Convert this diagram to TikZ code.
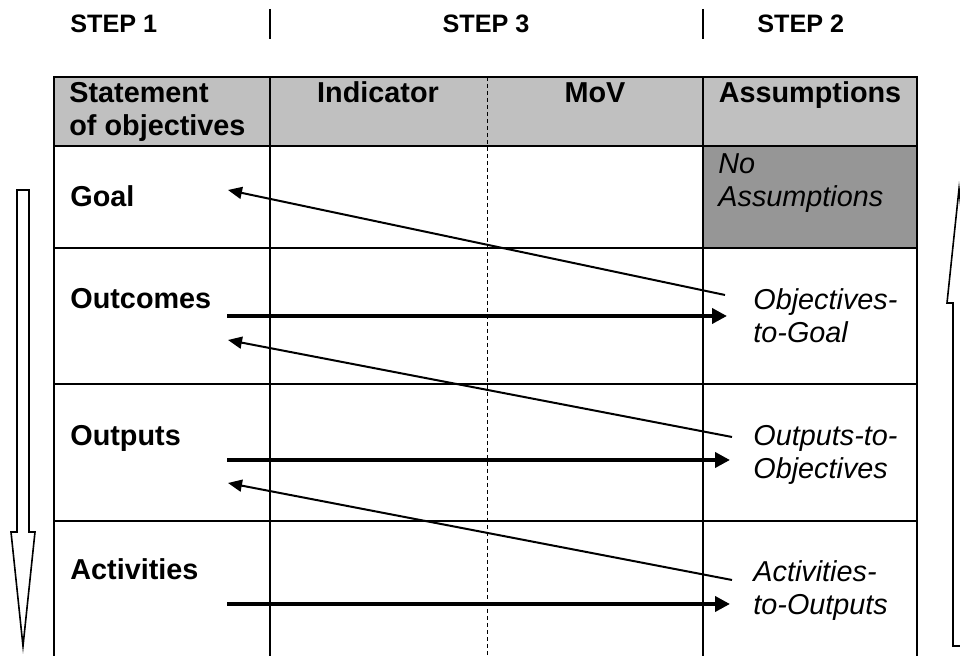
\documentclass[tikz,border=0pt]{standalone}
\usepackage{fontspec}
\setmainfont{Liberation Sans}
\usepackage{tikz}
\usetikzlibrary{arrows.meta}
\definecolor{hdrgrey}{HTML}{C0C0C0}
\definecolor{cellgrey}{HTML}{969696}
\tikzset{
  gridline/.style={line width=1.1pt},
  midline/.style={line width=0.5pt, dash pattern=on 2pt off 1.5pt},
  steplabel/.style={font=\fontsize{12.6}{15}\selectfont\bfseries, inner sep=0pt},
  headlabel/.style={font=\fontsize{14.4}{16.5}\selectfont\bfseries, inner sep=0pt, align=left},
  rowlabel/.style={font=\fontsize{14.4}{16.5}\selectfont\bfseries, inner sep=0pt, anchor=base west},
  asslabel/.style={font=\fontsize{14.4}{16.5}\selectfont\itshape, inner sep=0pt, anchor=base west, align=left},
  pushline/.style={-{Triangle[length=7.5pt,width=7.5pt]}, line width=2pt},
  backline/.style={-{Triangle[length=7pt,width=6pt]}, line width=1pt},
  flowarrow/.style={draw, line width=0.8pt, fill=white, line join=miter}
}
\begin{document}
\begin{tikzpicture}[x=0.5pt,y=-0.5pt]
  \useasboundingbox (0,0) rectangle (960,656);
  \clip (0,0) rectangle (960,656);

  % shaded cells
  \fill[hdrgrey] (54,77) rectangle (917,146);
  \fill[cellgrey] (703,146) rectangle (917,248);

  % table rules
  \draw[midline] (487,77) -- (487,670);
  \draw[gridline] (54,670) -- (54,77) -- (917,77) -- (917,670);
  \foreach \y in {146,248,384,521}
    \draw[gridline] (54,\y) -- (917,\y);
  \foreach \x in {270,703}
    \draw[gridline] (\x,77) -- (\x,670);

  % steps
  \node[steplabel, anchor=base west] (step1) at (70,33) {STEP 1};
  \node[steplabel, anchor=base] (step3) at (486,33) {STEP 3};
  \node[steplabel, anchor=base west] (step2) at (757,33) {STEP 2};
  \draw[gridline] (270,9) -- (270,39);
  \draw[gridline] (703,9) -- (703,39);

  % header (base = last line)
  \node[headlabel, anchor=base west] (hstate) at (69,136) {Statement\\of objectives};
  \node[headlabel, anchor=base] (hind) at (378,103) {Indicator};
  \node[headlabel, anchor=base] (hmov) at (595,103) {MoV};
  \node[headlabel, anchor=base] (hass) at (810,103) {Assumptions};

  % rows
  \node[rowlabel] (goal) at (70,207) {Goal};
  \node[rowlabel] (outcomes) at (70,309) {Outcomes};
  \node[rowlabel] (outputs) at (70,446) {Outputs};
  \node[rowlabel] (activities) at (70,580) {Activities};

  \node[asslabel] (noass) at (718,207) {No\\Assumptions};
  \node[asslabel] (objgoal) at (753,343) {Objectives-\\to-Goal};
  \node[asslabel] (outobj) at (753,479) {Outputs-to-\\Objectives};
  \node[asslabel] (actout) at (753,615) {Activities-\\to-Outputs};

  % arrow ends
  \coordinate (goalin) at (228,190);
  \coordinate (outcin) at (228,340);
  \coordinate (outpin) at (228,483);
  \coordinate (outcout) at (227,316);
  \coordinate (outpout) at (227,460);
  \coordinate (actiout) at (227,604);
  \coordinate (objgoalin) at (727,316);
  \coordinate (outobjin) at (730,460);
  \coordinate (actoutin) at (730,604);
  \coordinate (objgoalout) at (725,295);
  \coordinate (outobjout) at (732,437);
  \coordinate (actoutout) at (732,580);

  \draw[pushline] (outcout) -- (objgoalin);
  \draw[pushline] (outpout) -- (outobjin);
  \draw[pushline] (actiout) -- (actoutin);
  \draw[backline] (objgoalout) -- (goalin);
  \draw[backline] (outobjout) -- (outcin);
  \draw[backline] (actoutout) -- (outpin);

  % direction arrows
  \draw[flowarrow] (17,190) -- (29,190) -- (29,532) -- (35,532) -- (23,646)
    -- (11,532) -- (17,532) -- cycle;
  \draw[flowarrow] (953,646) -- (965,646) -- (965,303) -- (971,303) -- (959,189)
    -- (947,303) -- (953,303) -- cycle;
\end{tikzpicture}
\end{document}
